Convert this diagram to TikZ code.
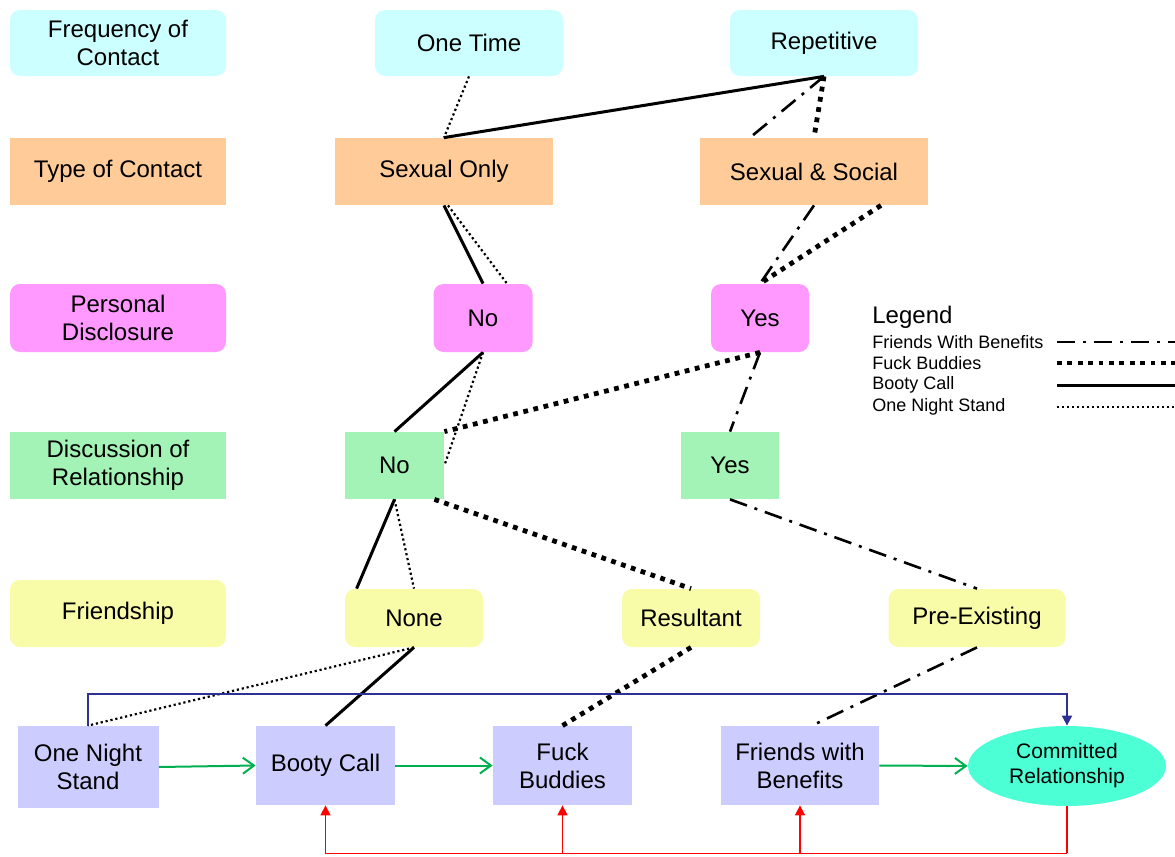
\documentclass[tikz,border=0pt]{standalone}
\usepackage{fontspec}
\setmainfont{Liberation Sans}
\usetikzlibrary{arrows.meta,shapes.geometric}
\definecolor{freqcol}{HTML}{CCFFFF}
\definecolor{typecol}{HTML}{FFCC99}
\definecolor{disccol}{HTML}{FF99FF}
\definecolor{relcol}{HTML}{A3F3B6}
\definecolor{friendcol}{HTML}{F8FBA8}
\definecolor{kindcol}{HTML}{CCCCFF}
\definecolor{commitcol}{HTML}{4CFFD4}
\definecolor{upcol}{RGB}{46,49,146}
\definecolor{nextcol}{HTML}{00B050}
\begin{document}
\begin{tikzpicture}[x=0.5pt,y=-0.5pt,
		box/.style={inner sep=0pt, align=center, font=\fontsize{12}{14}\selectfont},
		rbox/.style={box, rounded corners=5pt},
		fwbline/.style={line width=1.3pt, dash pattern=on 9pt off 4pt on 1.5pt off 4pt},
		fbline/.style={line width=2.4pt, dash pattern=on 2.4pt off 2.8pt},
		bcline/.style={line width=1.5pt},
		onsline/.style={line width=1.1pt, dash pattern=on 1.1pt off 1.4pt},
		nextarrow/.style={nextcol, line width=1pt, -{Straight Barb[length=5.5pt,width=8pt]}},
		backarrow/.style={red, line width=0.8pt, -{Triangle[length=5pt,width=5pt]}},
		uparrow/.style={upcol, line width=1pt, -{Triangle[length=5pt,width=5pt]}},
		legtext/.style={anchor=west, inner sep=0pt, font=\fontsize{9}{10}\selectfont}]
	\useasboundingbox (0,0) rectangle (1175,857);
	% row titles
	\node[rbox, fill=freqcol, minimum width=108pt, minimum height=33pt] (freq) at (118,43) {Frequency of\\Contact};
	\node[box, fill=typecol, minimum width=108pt, minimum height=33.5pt] (type) at (118,171.5) {Type of Contact};
	\node[rbox, fill=disccol, minimum width=108pt, minimum height=34pt] (disc) at (118,318) {Personal\\Disclosure};
	\node[box, fill=relcol, minimum width=108pt, minimum height=33.5pt] (rel) at (118,465.5) {Discussion of\\Relationship};
	\node[rbox, fill=friendcol, minimum width=108pt, minimum height=33.5pt] (friend) at (118,613.5) {Friendship};
	% choices
	\node[rbox, fill=freqcol, minimum width=94pt, minimum height=33pt] (onetime) at (469,43) {One Time};
	\node[rbox, fill=freqcol, minimum width=94pt, minimum height=33pt] (repet) at (824,43) {Repetitive};
	\node[box, fill=typecol, minimum width=109pt, minimum height=33.5pt] (sexonly) at (444,171.5) {Sexual Only};
	\node[box, fill=typecol, minimum width=114pt, minimum height=33.5pt] (sexsoc) at (814,171.5) {Sexual \& Social};
	\node[rbox, fill=disccol, minimum width=49.5pt, minimum height=34pt] (discno) at (483,318) {No};
	\node[rbox, fill=disccol, minimum width=49pt, minimum height=34pt] (discyes) at (760,318) {Yes};
	\node[box, fill=relcol, minimum width=49.5pt, minimum height=33.5pt] (relno) at (394.5,465.5) {No};
	\node[box, fill=relcol, minimum width=49pt, minimum height=33.5pt] (relyes) at (730,465.5) {Yes};
	\node[rbox, fill=friendcol, minimum width=69pt, minimum height=29pt] (none) at (414,618) {None};
	\node[rbox, fill=friendcol, minimum width=69pt, minimum height=29pt] (result) at (691,618) {Resultant};
	\node[rbox, fill=friendcol, minimum width=88.5pt, minimum height=29pt] (preex) at (977,618) {Pre-Existing};
	% outcomes
	\node[box, fill=kindcol, minimum width=70.5pt, minimum height=41pt] (ons) at (88,767) {One Night\\Stand};
	\node[box, fill=kindcol, minimum width=69.5pt, minimum height=39.5pt] (bc) at (325.5,765.5) {Booty Call};
	\node[box, fill=kindcol, minimum width=69.5pt, minimum height=39.5pt] (fbud) at (562.5,765.5) {Fuck\\Buddies};
	\node[box, fill=kindcol, minimum width=79pt, minimum height=39.5pt] (fwb) at (800,765.5) {Friends with\\Benefits};
	\node[ellipse, fill=commitcol, inner sep=0pt, align=center, minimum width=99pt, minimum height=40pt,
		font=\fontsize{10.5}{12.5}\selectfont] (commit) at (1067,766) {Committed\\Relationship};
	% paths
	\draw[onsline] (onetime.south) -- (sexonly.north);
	\draw[bcline] (sexonly.north) -- (repet.south);
	\draw[fwbline] (repet.south) -- ([xshift=-32pt]sexsoc.north);
	\draw[fbline] (repet.south) -- (sexsoc.north);
	\draw[bcline] (sexonly.south) -- (discno.north);
	\draw[onsline] ([xshift=2pt]sexonly.south) -- ([xshift=12pt]discno.north);
	\draw[fwbline] (sexsoc.south) -- (discyes.north);
	\draw[fbline] ([xshift=33.5pt]sexsoc.south) -- (discyes.north);
	\draw[bcline] (discno.south) -- (relno.north);
	\draw[onsline] (discno.south) -- (relno.east);
	\draw[fbline] (discyes.south) -- (relno.north east);
	\draw[fwbline] (discyes.south) -- (relyes.north);
	\draw[bcline] (relno.south) -- ([xshift=6pt]none.north west);
	\draw[onsline] (relno.south) -- (none.north);
	\draw[fbline] ([xshift=-5pt]relno.south east) -- (result.north);
	\draw[fwbline] (relyes.south) -- (preex.north);
	\draw[onsline] (none.south) -- (ons.north);
	\draw[bcline] (none.south) -- (bc.north);
	\draw[fbline] (result.south) -- (fbud.north);
	\draw[fwbline] (preex.south) -- ([xshift=6pt]fwb.north);
	% progression
	\draw[nextarrow] (ons.east) -- (bc.west);
	\draw[nextarrow] (bc.east) -- (fbud.west);
	\draw[nextarrow] (fwb.east) -- (commit.west);
	\draw[uparrow] (ons.north) -- ++(0,-32) -| (commit.north);
	\draw[red, line width=0.8pt] (commit.south) -- ++(0,47) coordinate (back);
	\draw[backarrow] (back) -| (bc.south);
	\draw[backarrow] (fbud.south |- back) -- (fbud.south);
	\draw[backarrow] (fwb.south |- back) -- (fwb.south);
	% legend
	\node[anchor=west, inner sep=0pt, font=\fontsize{12}{14}\selectfont] (legend) at (872,317) {Legend};
	\node[legtext] (lg1) at (872,342) {Friends With Benefits};
	\node[legtext] (lg2) at (872,363) {Fuck Buddies};
	\node[legtext] (lg3) at (872,385) {Booty Call};
	\node[legtext] (lg4) at (872,407) {One Night Stand};
	\coordinate (lgx) at (1057,0);
	\draw[fwbline] (lg1 -| lgx) -- ++(118,0);
	\draw[fbline] (lg2 -| lgx) -- ++(118,0);
	\draw[bcline] (lg3 -| lgx) -- ++(118,0);
	\draw[onsline] (lg4 -| lgx) -- ++(118,0);
\end{tikzpicture}
\end{document}
